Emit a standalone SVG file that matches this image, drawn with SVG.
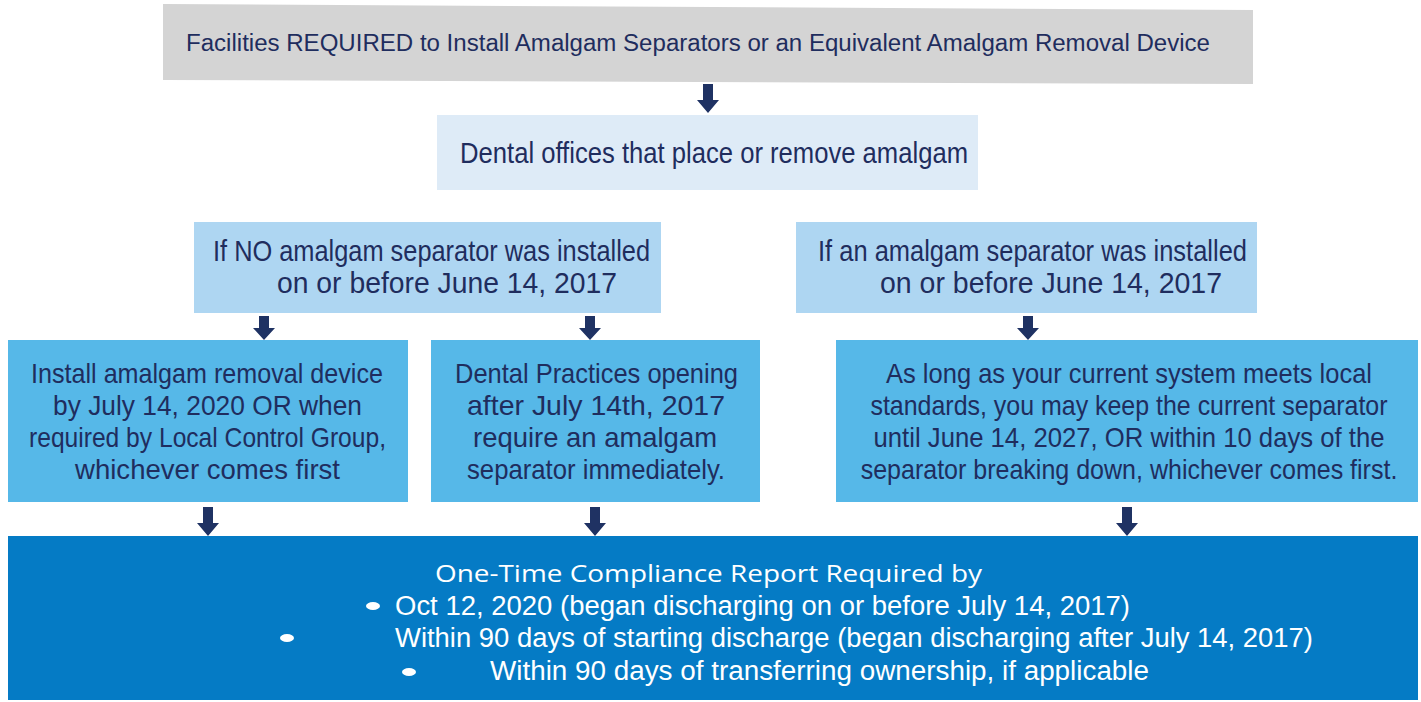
<svg xmlns="http://www.w3.org/2000/svg" width="1421" height="702" viewBox="0 0 1421 702">
<style>
  .t { font-family: "Liberation Sans", Arial, sans-serif; fill: #1f2d5e; }
  .w { font-family: "Liberation Sans", Arial, sans-serif; fill: #ffffff; }
  .arrow { fill: #1f3263; }
  .mid { fill: #56b8e8; }
  .cond { fill: #aed6f2; }
</style>
<rect width="1421" height="702" fill="#ffffff"/>

<g id="node-title">
  <polygon points="163,4 1253,10 1253,84 163,80" fill="#d4d4d4"/>
  <text class="t" x="186" y="51" font-size="23" textLength="1024" lengthAdjust="spacingAndGlyphs">Facilities REQUIRED to Install Amalgam Separators or an Equivalent Amalgam Removal Device</text>
</g>

<g id="node-dental-offices">
  <rect x="437" y="115" width="541" height="75" fill="#deebf7"/>
  <text class="t" x="460" y="163" font-size="29" textLength="508" lengthAdjust="spacingAndGlyphs">Dental offices that place or remove amalgam</text>
</g>

<g id="node-no-separator">
  <rect class="cond" x="194" y="222" width="467" height="91"/>
  <text class="t" x="213" y="261" font-size="29" textLength="437" lengthAdjust="spacingAndGlyphs">If NO amalgam separator was installed</text>
  <text class="t" x="277" y="293" font-size="29" textLength="340" lengthAdjust="spacingAndGlyphs">on or before June 14, 2017</text>
</g>

<g id="node-separator-installed">
  <rect class="cond" x="796" y="222" width="461" height="91"/>
  <text class="t" x="818" y="261" font-size="29" textLength="429" lengthAdjust="spacingAndGlyphs">If an amalgam separator was installed</text>
  <text class="t" x="880" y="293" font-size="29" textLength="342" lengthAdjust="spacingAndGlyphs">on or before June 14, 2017</text>
</g>

<g id="node-install-device">
  <rect class="mid" x="8" y="340" width="400" height="162"/>
  <text class="t" x="31" y="383" font-size="28" textLength="352" lengthAdjust="spacingAndGlyphs">Install amalgam removal device</text>
  <text class="t" x="53" y="415" font-size="28" textLength="309" lengthAdjust="spacingAndGlyphs">by July 14, 2020 OR when</text>
  <text class="t" x="29" y="447" font-size="28" textLength="357" lengthAdjust="spacingAndGlyphs">required by Local Control Group,</text>
  <text class="t" x="75" y="479" font-size="28" textLength="265" lengthAdjust="spacingAndGlyphs">whichever comes first</text>
</g>

<g id="node-new-practices">
  <rect class="mid" x="431" y="340" width="329" height="162"/>
  <text class="t" x="455" y="383" font-size="28" textLength="283" lengthAdjust="spacingAndGlyphs">Dental Practices opening</text>
  <text class="t" x="467" y="415" font-size="28" textLength="258" lengthAdjust="spacingAndGlyphs">after July 14th, 2017</text>
  <text class="t" x="473" y="447" font-size="28" textLength="244" lengthAdjust="spacingAndGlyphs">require an amalgam</text>
  <text class="t" x="467" y="479" font-size="28" textLength="258" lengthAdjust="spacingAndGlyphs">separator immediately.</text>
</g>

<g id="node-keep-separator">
  <rect class="mid" x="836" y="340" width="582" height="162"/>
  <g transform="translate(1129,0) scale(0.89,1)">
    <text class="t" x="0" y="383" font-size="28" text-anchor="middle" textLength="546" lengthAdjust="spacingAndGlyphs">As long as your current system meets local</text>
    <text class="t" x="0" y="415" font-size="28" text-anchor="middle" textLength="581" lengthAdjust="spacingAndGlyphs">standards, you may keep the current separator</text>
    <text class="t" x="0" y="447" font-size="28" text-anchor="middle" textLength="574" lengthAdjust="spacingAndGlyphs">until June 14, 2027, OR within 10 days of the</text>
    <text class="t" x="0" y="479" font-size="28" text-anchor="middle" textLength="603" lengthAdjust="spacingAndGlyphs">separator breaking down, whichever comes first.</text>
  </g>
</g>

<g id="node-compliance-report">
  <rect x="8" y="536" width="1410" height="164" fill="#057bc5"/>
  <text x="435" y="582" font-family="'Open Sans', 'Liberation Sans', sans-serif" font-size="24" fill="#ffffff" textLength="547" lengthAdjust="spacingAndGlyphs">One-Time Compliance Report Required by</text>
  <ellipse cx="373" cy="606" rx="7" ry="4" fill="#ffffff"/>
  <text class="w" x="395" y="615" font-size="27" textLength="735" lengthAdjust="spacingAndGlyphs">Oct 12, 2020 (began discharging on or before July 14, 2017)</text>
  <ellipse cx="287" cy="638" rx="7" ry="4" fill="#ffffff"/>
  <text class="w" x="395" y="647" font-size="27" textLength="918" lengthAdjust="spacingAndGlyphs">Within 90 days of starting discharge (began discharging after July 14, 2017)</text>
  <ellipse cx="409" cy="672" rx="7" ry="4" fill="#ffffff"/>
  <text class="w" x="490" y="680" font-size="27" textLength="659" lengthAdjust="spacingAndGlyphs">Within 90 days of transferring ownership, if applicable</text>
</g>

<g id="connectors">
  <path class="arrow" d="M703,84 H713 V100 H719 L708,113 L697,100 H703 Z"/>
  <path class="arrow" d="M259,316 H269 V328 H275 L264,340 L253,328 H259 Z"/>
  <path class="arrow" d="M585,316 H595 V328 H601 L590,340 L579,328 H585 Z"/>
  <path class="arrow" d="M1023,316 H1033 V328 H1039 L1028,340 L1017,328 H1023 Z"/>
  <path class="arrow" d="M203,507 H213 V523 H219 L208,536 L197,523 H203 Z"/>
  <path class="arrow" d="M590,507 H600 V523 H606 L595,536 L584,523 H590 Z"/>
  <path class="arrow" d="M1122,507 H1132 V523 H1138 L1127,536 L1116,523 H1122 Z"/>
</g>
</svg>
